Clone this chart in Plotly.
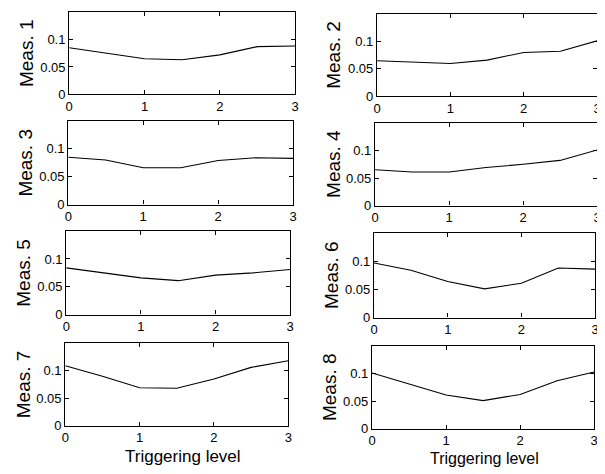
import plotly.graph_objects as go

levels = [0, 0.5, 1, 1.5, 2, 2.5, 3]
meas1 = [0.085, 0.075, 0.065, 0.063, 0.072, 0.087, 0.088]
meas2 = [0.065, 0.063, 0.060, 0.066, 0.080, 0.082, 0.101]
meas3 = [0.085, 0.080, 0.066, 0.066, 0.079, 0.084, 0.083]
meas4 = [0.065, 0.061, 0.061, 0.069, 0.075, 0.082, 0.101]
meas5 = [0.084, 0.075, 0.066, 0.061, 0.071, 0.075, 0.081]
meas6 = [0.097, 0.084, 0.064, 0.051, 0.061, 0.088, 0.086]
meas7 = [0.109, 0.090, 0.069, 0.068, 0.085, 0.106, 0.118]
meas8 = [0.101, 0.081, 0.061, 0.051, 0.062, 0.087, 0.103]
series = [meas1, meas2, meas3, meas4, meas5, meas6, meas7, meas8]
names = ["Meas. 1", "Meas. 2", "Meas. 3", "Meas. 4",
         "Meas. 5", "Meas. 6", "Meas. 7", "Meas. 8"]
x_ticks = [0, 1, 2, 3]
x_ticktext = ["0", "1", "2", "3"]
y_ticks = [0, 0.05, 0.1]
y_ticktext = ["0", "0.05", "0.1"]
x_title = "Triggering level"

# the page body has an 8px default margin; size the figure so it fills the window
OFF = 8
W, H = 605 - OFF, 474 - OFF


def fx(px):
    return (px - OFF) / W


def fy(py):
    return 1 - (py - OFF) / H


# panel boxes in window pixels: left, right, top, bottom
boxes = [
    (66, 295, 12, 96), (378, 601, 14, 98),
    (65, 293, 123, 208), (376, 601, 125, 209),
    (63, 290, 235, 320), (375, 599, 237, 323),
    (62, 288, 349, 433), (373, 598, 352, 436),
]
ytitle_x = [22, 334, 22, 334, 20, 332, 20, 330]

font_family = "Liberation Sans, Arial, sans-serif"
fig = go.Figure()
annotations = []
for i, (vals, name, box) in enumerate(zip(series, names, boxes)):
    l, r, t, b = box
    k = "" if i == 0 else str(i + 1)
    fig.add_trace(go.Scatter(x=levels, y=vals, mode="lines",
                             line=dict(color="black", width=1.1),
                             xaxis="x" + k, yaxis="y" + k, showlegend=False))
    axis_common = dict(showline=True, linecolor="black", linewidth=1.3,
                       mirror="allticks", ticks="inside", ticklen=4,
                       tickcolor="black", showgrid=False, zeroline=False,
                       ticklabeloverflow="allow",
                       tickfont=dict(family=font_family, size=13, color="black"))
    fig.layout["xaxis" + k] = dict(domain=[fx(l), fx(r)], anchor="y" + k,
                                   range=[0, 3], tickvals=x_ticks,
                                   ticktext=x_ticktext, **axis_common)
    fig.layout["yaxis" + k] = dict(domain=[fy(b), fy(t)], anchor="x" + k,
                                   range=[0, 0.15], tickvals=y_ticks,
                                   ticktext=y_ticktext, **axis_common)
    annotations.append(dict(text=name, x=fx(ytitle_x[i]), y=fy((t + b) / 2),
                            xref="paper", yref="paper", textangle=-90,
                            showarrow=False, xanchor="center", yanchor="middle",
                            font=dict(family=font_family, size=19, color="black")))

annotations.append(dict(text=x_title, x=fx(181), y=fy(464), xref="paper",
                        yref="paper", showarrow=False, xanchor="center",
                        yanchor="middle",
                        font=dict(family=font_family, size=17, color="black")))
annotations.append(dict(text=x_title, x=fx(487), y=fy(466), xref="paper",
                        yref="paper", showarrow=False, xanchor="center",
                        yanchor="middle",
                        font=dict(family=font_family, size=16, color="black")))

fig.update_layout(width=W, height=H, margin=dict(l=0, r=0, t=0, b=0),
                  paper_bgcolor="white", plot_bgcolor="white",
                  annotations=annotations)
fig.write_html("out.html")
